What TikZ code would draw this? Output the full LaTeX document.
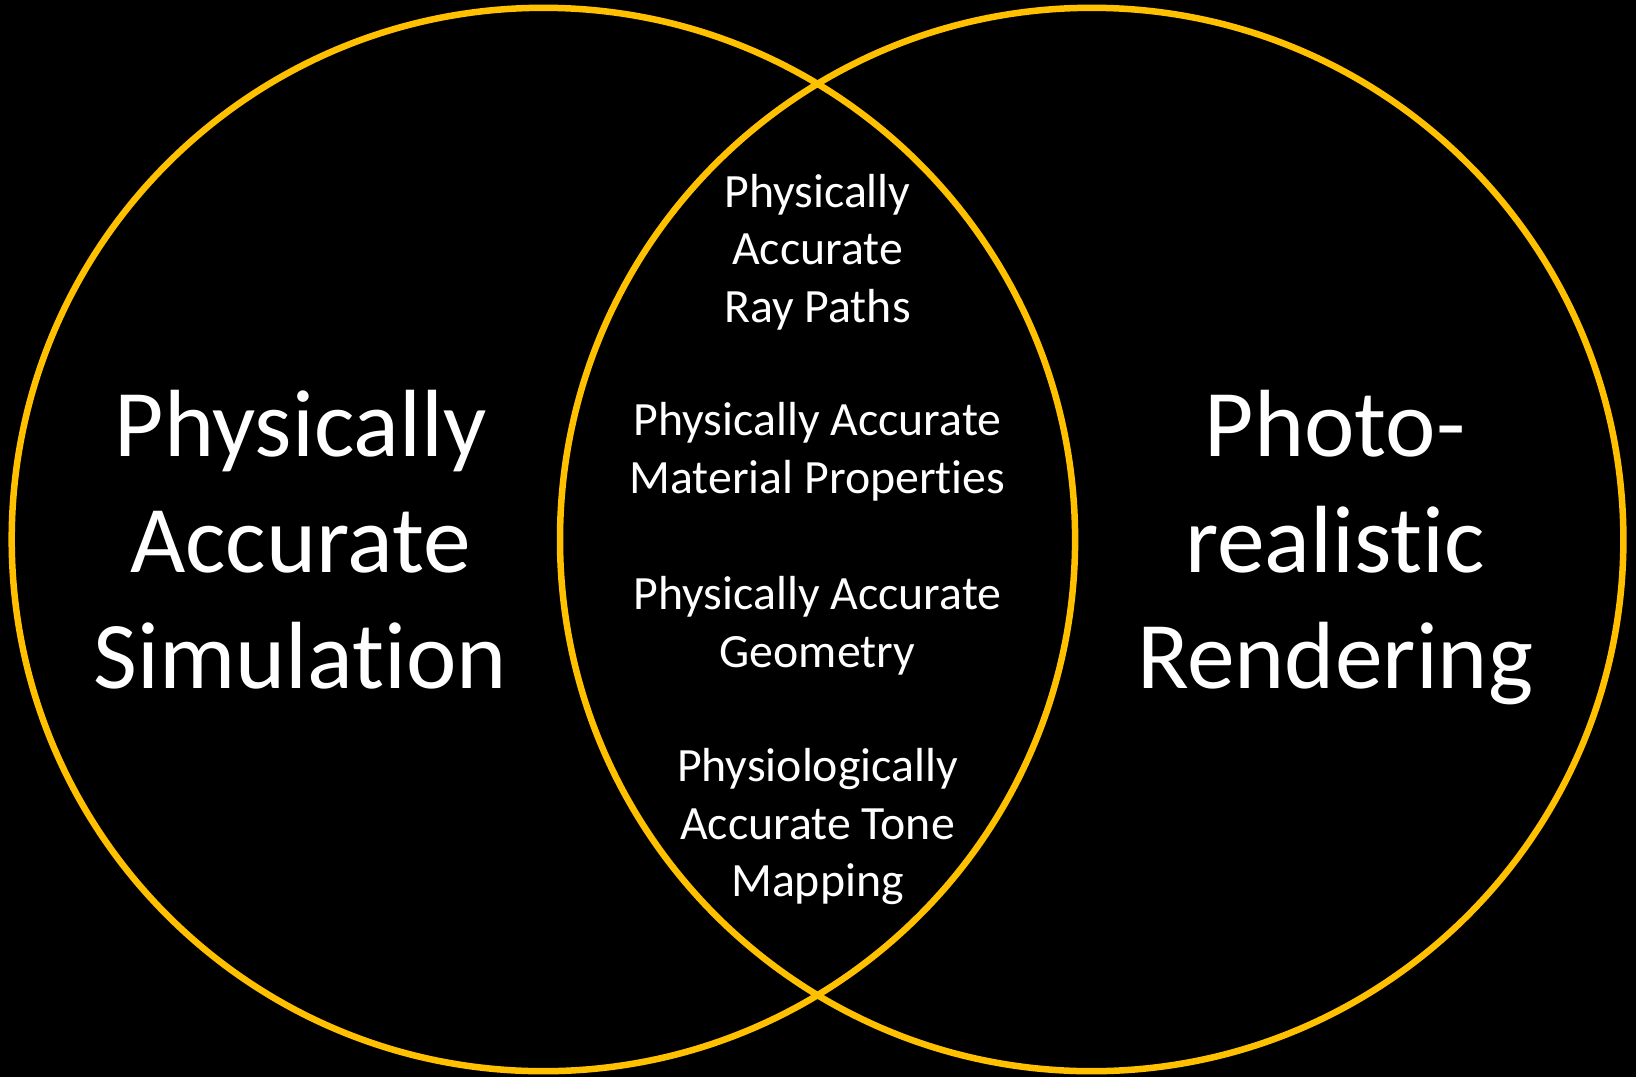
\documentclass[tikz,border=0pt]{standalone}
\usepackage{fontspec}
\setmainfont{Carlito}[RawFeature={-liga}]
\definecolor{ringgold}{HTML}{FFC000}
\begin{document}
\begin{tikzpicture}[x=1pt,y=-1pt,
  ring/.style={draw=ringgold,line width=6.5pt},
  bigtext/.style={text=white,align=center,inner sep=0pt,anchor=base,
    font=\fontsize{95.5}{116}\selectfont},
  smalltext/.style={text=white,align=center,inner sep=0pt,anchor=base,
    font=\fontsize{47.8}{57.5}\selectfont}]
\fill[black] (0,0) rectangle (1636,1077);
\useasboundingbox (0,0) rectangle (1636,1077);
\draw[ring] (543.4,539.5) circle[radius=531.7];
\draw[ring] (1091.7,539.5) circle[radius=531.7];
\node[bigtext] (sim) at (300.5,688) {Physically\\Accurate\\Simulation};
\node[bigtext] (ren) at (1335,688) {Photo-\\realistic\\Rendering};
\node[smalltext] (ray) at (817.5,322.3) {Physically\\Accurate\\Ray Paths};
\node[smalltext] (mat) at (817.5,493.3) {Physically Accurate\\Material Properties};
\node[smalltext] (geo) at (817.5,667.3) {Physically Accurate\\Geometry};
\node[smalltext] (tone) at (817.5,896.7) {Physiologically\\Accurate Tone\\Mapping};
\end{tikzpicture}
\end{document}
